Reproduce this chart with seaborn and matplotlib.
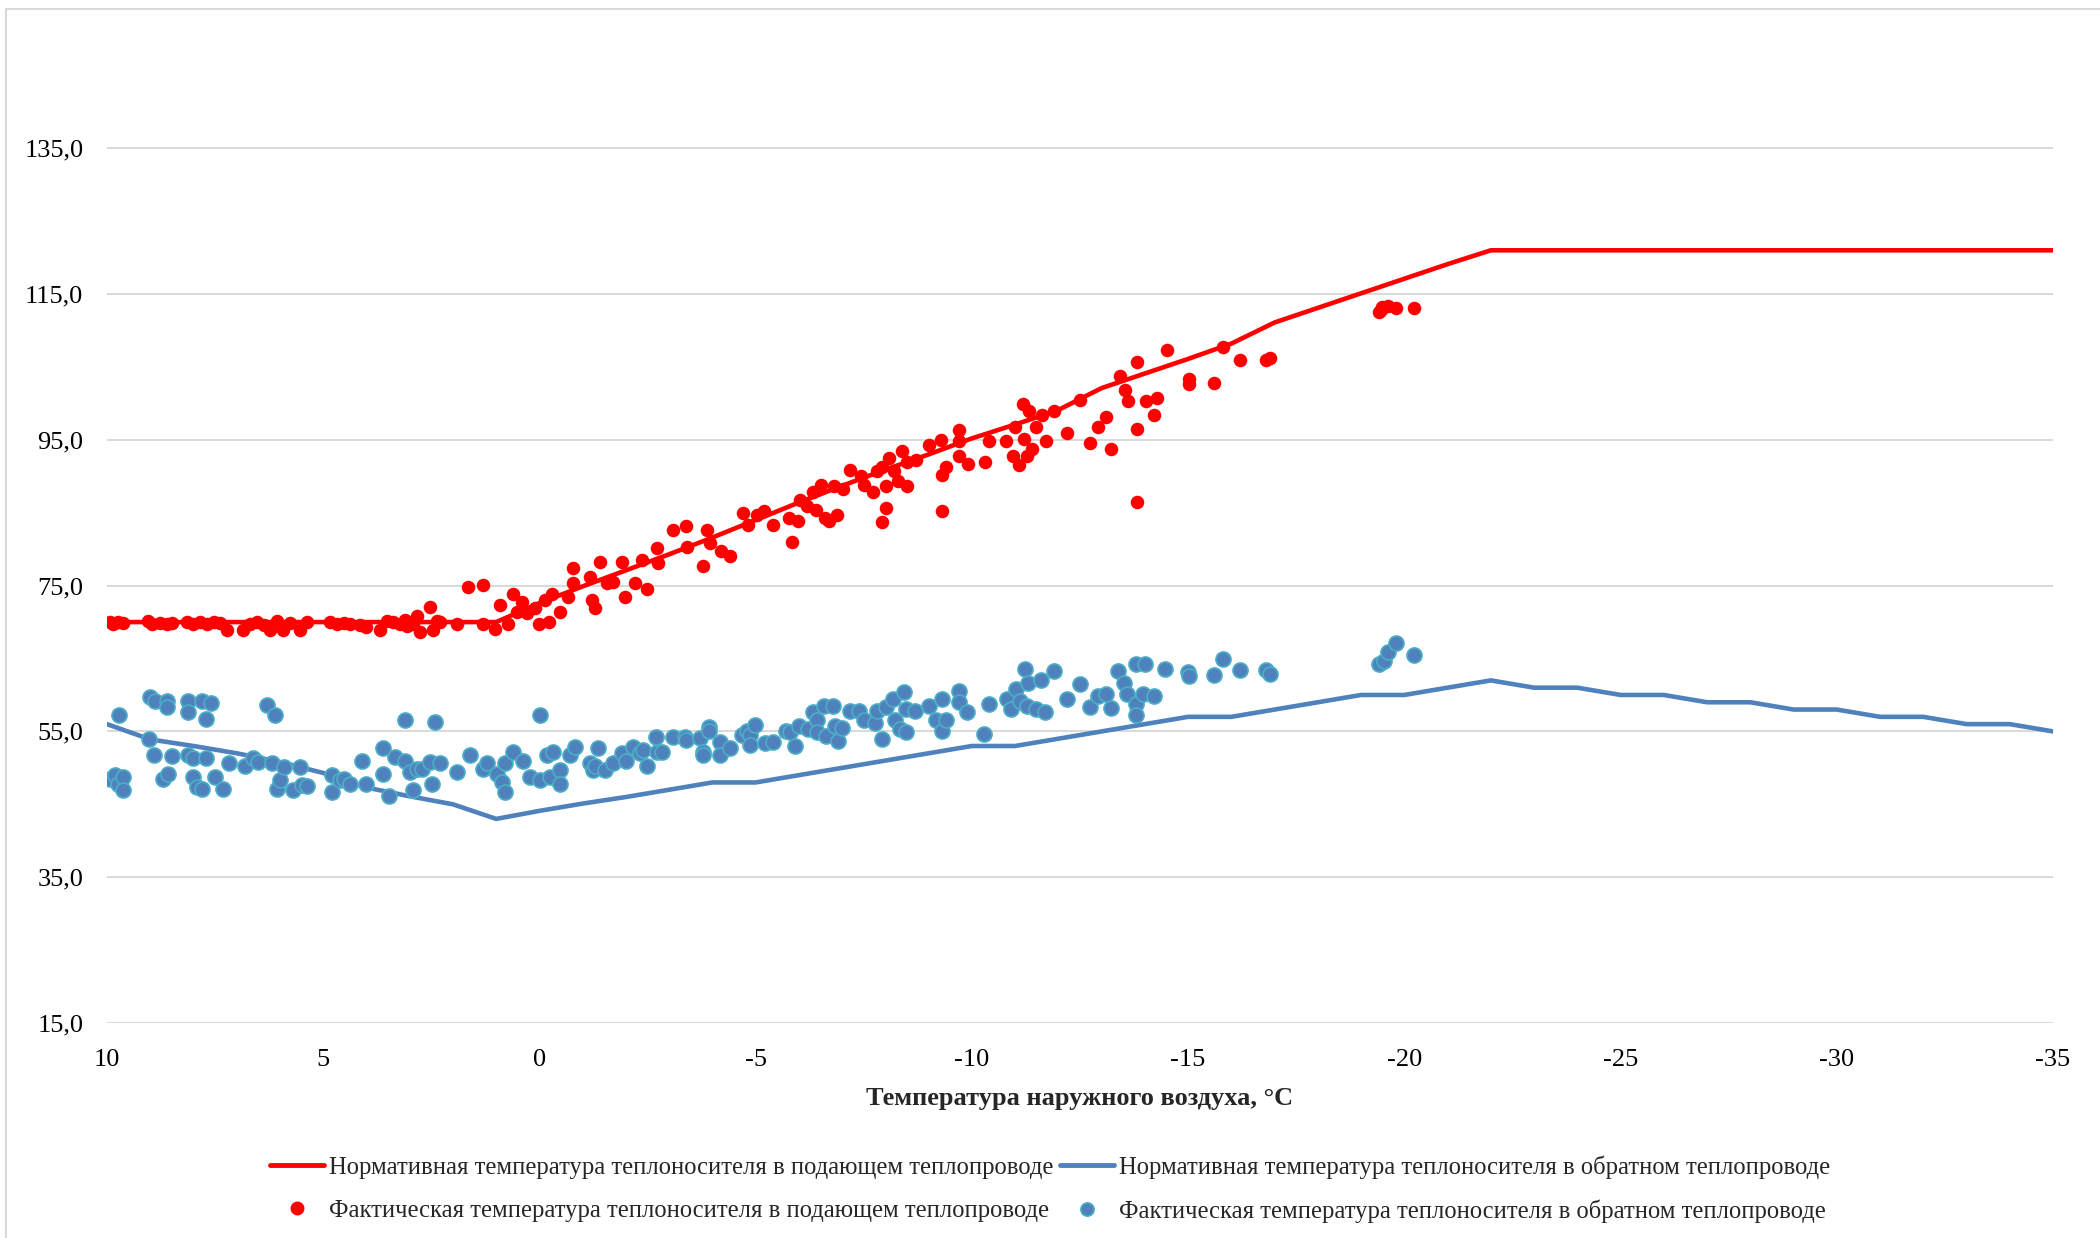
import numpy as np
import pandas as pd
import matplotlib
matplotlib.use("Agg")
import matplotlib.pyplot as plt
import seaborn as sns
from matplotlib.ticker import FuncFormatter
from matplotlib.lines import Line2D

# --- normative schedule (per degree of outdoor temperature) ---
t_out_norm = [10, 9, 8, 7, 6, 5, 4, 3, 2, 1, 0, -1, -2, -3, -4, -5, -6, -7, -8, -9,
              -10, -11, -12, -13, -14, -15, -16, -17, -18, -19, -20, -21, -22, -23,
              -24, -25, -26, -27, -28, -29, -30, -31, -32, -33, -34, -35]
t_supply_norm = [70.0, 70.0, 70.0, 70.0, 70.0, 70.0, 70.0, 70.0, 70.0, 70.0,
                 72.6, 74.9, 77.1, 79.3, 81.6, 84.0, 86.4, 88.7, 90.9, 93.0,
                 95.2, 97.1, 99.1, 102.1, 104.1, 106.1, 108.2, 111.1, 113.1, 115.1,
                 117.1, 119.1, 121.0, 121.0, 121.0, 121.0, 121.0, 121.0, 121.0, 121.0,
                 121.0, 121.0, 121.0, 121.0, 121.0, 121.0]
t_return_norm = [56.0, 53.9, 53.0, 52.0, 50.8, 49.3, 47.3, 46.1, 45.0, 43.0,
                 44.1, 45.1, 46.0, 47.0, 48.0, 48.0, 49.0, 50.0, 51.0, 52.0,
                 53.0, 53.0, 54.0, 55.0, 56.0, 57.0, 57.0, 58.0, 59.0, 60.0,
                 60.0, 61.0, 62.0, 61.0, 61.0, 60.0, 60.0, 59.0, 59.0, 58.0,
                 58.0, 57.0, 57.0, 56.0, 56.0, 55.0]

# --- measured supply temperature ---
t_out_supply = [9.93, 9.86, 9.75, 9.63, 9.05, 8.96, 8.77, 8.61, 8.50, 8.15, 8.00, 7.85,
                7.69, 7.53, 7.38, 7.22, 6.85, 6.69, 6.54, 6.38, 6.23, 6.08, 5.92, 5.77,
                5.54, 5.38, 4.84, 4.69, 4.53, 4.38, 4.15, 4.00, 3.68, 3.53, 3.38, 3.22,
                3.11, 3.07, 2.92, 2.84, 2.76, 2.53, 2.45, 2.37, 2.30, 1.91, 1.65, 1.30,
                1.30, 1.03, 0.91, 0.72, 0.60, 0.53, 0.41, 0.29, 0.10, 0.02, -0.13, -0.21,
                -0.28, -0.48, -0.67, -0.78, -0.78, -1.17, -1.21, -1.28, -1.40, -1.56, -1.71, -1.90,
                -1.98, -2.21, -2.37, -2.48, -2.71, -2.75,
                -3.42, -3.78, -3.94, -4.20, -4.41, -5.84,
                -3.09, -3.38, -3.88, -4.71, -4.83, -5.04, -5.20, -5.41, -5.78, -5.99, -6.03, -6.19,
                -6.32, -6.40, -6.52, -6.60, -6.69, -6.81, -6.89, -7.02, -7.18, -7.43, -7.51, -7.72,
                -7.80, -7.93, -8.01, -8.01, -7.93, -8.09, -8.21, -8.30, -8.38, -8.50, -8.50, -8.71,
                -9.00, -9.29, -9.31, -9.31, -9.41, -9.70, -9.70, -9.70, -9.91, -10.30, -10.40, -10.80,
                -10.94, -11.00, -11.10, -11.19, -11.21, -11.27, -11.31, -11.40, -11.49, -11.62, -11.71, -11.91,
                -12.20, -12.51, -12.72, -12.92, -13.11, -13.21, -13.42, -13.53, -13.61, -13.81, -13.81, -13.81,
                -14.02, -14.22, -14.29,
                -14.51, -15.02, -15.02, -15.61, -15.80, -16.21, -16.80, -16.90,
                -19.41, -19.45, -19.49, -19.62, -19.80, -20.22]
t_supply_fact = [70.0, 69.8, 70.0, 69.9, 70.1, 69.8, 69.9, 69.8, 69.9, 70.0, 69.8, 70.0,
                 69.8, 70.0, 69.9, 68.9, 68.9, 69.8, 70.0, 69.6, 68.9, 70.1, 68.9, 69.9,
                 68.9, 70.0, 70.0, 69.8, 69.9, 69.8, 69.6, 69.3, 68.9, 70.1, 70.0, 69.8,
                 70.3, 69.5, 69.8, 70.9, 68.7, 72.1, 68.9, 70.1, 70.0, 69.8, 74.8, 75.1,
                 69.8, 69.1, 72.3, 69.8, 73.9, 71.4, 72.8, 71.2, 71.9, 69.8, 73.0, 70.0,
                 73.9, 71.4, 73.5, 77.4, 75.3, 76.2, 73.0, 71.9, 78.3, 75.3, 75.5, 78.3,
                 73.5, 75.3, 78.5, 74.6, 80.1, 78.1,
                 80.3, 77.7, 80.9, 79.8, 79.1, 81.0,
                 82.6, 83.2, 82.6, 84.9, 83.3, 84.7, 85.2, 83.3, 84.3, 83.8, 86.8, 85.9,
                 87.9, 85.4, 88.8, 84.3, 83.8, 88.7, 84.7, 88.2, 90.8, 90.0, 88.8, 87.8,
                 90.7, 91.3, 85.6, 88.7, 83.7, 92.5, 90.7, 89.3, 93.4, 88.6, 92.0, 92.3,
                 94.3, 95.0, 90.2, 85.2, 91.3, 96.4, 94.8, 92.8, 91.7, 92.0, 94.8, 94.9,
                 92.8, 96.8, 91.6, 99.9, 95.1, 92.8, 99.0, 93.7, 96.8, 98.4, 94.9, 99.0,
                 95.9, 100.5, 94.5, 96.8, 98.1, 93.7, 103.8, 101.9, 100.3, 105.7, 96.5, 86.5,
                 100.3, 98.4, 100.7,
                 107.3, 103.3, 102.7, 102.8, 107.7, 106.0, 105.9, 106.2,
                 112.5, 112.8, 113.2, 113.4, 113.1, 113.1]

# --- measured return temperature ---
t_out_return = [9.93, 9.82, 9.74, 9.62, 9.62, 9.72, 9.02, 9.01, 8.89, 8.91, 8.70, 8.62,
                8.62, 8.58, 8.50, 8.12, 8.12, 8.12, 8.00, 8.00, 7.93, 7.81, 7.81, 7.71,
                7.71, 7.60, 7.50, 7.31, 7.19, 6.81, 6.62, 6.50, 6.31, 6.19, 6.11, 6.08,
                6.00, 5.91, 5.71, 5.54, 5.50, 5.38, 4.80, 4.80, 4.61, 4.53, 4.38, 4.11,
                4.01, 3.61, 3.61, 3.49, 3.34, 3.11, 3.11, 2.99, 2.92, 2.84, 2.72, 2.53,
                2.49, 2.41, 2.30, 1.91, 1.61, 1.30, 1.22, 0.99, 0.87, 0.80, 0.80, 0.60,
                0.37, 0.22, -0.01, -0.01, -0.17, -0.25, -0.32, -0.48, -0.48, -0.71, -0.82,
                -1.17, -1.25, -1.29, -1.36, -1.52, -1.71, -1.90, -2.00, -2.17, -2.33, -2.40, -2.48,
                -2.70, -2.71, -2.83, -3.10, -3.37, -3.39, -3.71, -3.79, -3.79, -3.91, -3.91, -4.18,
                -4.18, -4.41, -4.68, -4.79, -4.88, -4.88, -4.99, -5.22, -5.41,
                -5.70, -5.80, -5.90, -6.01, -6.21, -6.32, -6.42, -6.42, -6.57, -6.63, -6.78, -6.83,
                -6.91, -6.99, -7.19, -7.40, -7.50, -7.76, -7.81, -7.92, -8.02, -8.18, -8.23, -8.33,
                -8.43, -8.48, -8.48, -8.69, -9.00, -9.16, -9.31, -9.31, -9.41, -9.70, -9.70, -9.88,
                -10.29, -10.39, -10.81, -10.91, -11.01, -11.12, -11.22, -11.29, -11.27, -11.48, -11.60, -11.68,
                -11.89, -12.20, -12.51, -12.72, -12.92, -13.11, -13.21, -13.39, -13.52, -13.59, -13.80, -13.80,
                -13.80, -13.96, -14.01, -14.21, -14.47, -14.99,
                -15.02, -15.61, -15.80, -16.21, -16.80, -16.90,
                -19.41, -19.52, -19.62, -19.80, -20.22]
t_return_fact = [48.5, 49.0, 47.8, 48.7, 46.9, 57.2, 53.9, 59.7, 59.2, 51.8, 48.5, 59.2,
                 58.3, 49.2, 51.6, 59.2, 57.7, 51.7, 51.3, 48.7, 47.4, 59.2, 47.1, 56.7,
                 51.3, 58.9, 48.7, 47.1, 50.6, 50.3, 51.3, 50.8, 58.6, 50.6, 57.2, 47.1,
                 48.3, 50.1, 46.9, 50.1, 47.6, 47.5, 49.0, 46.7, 48.3, 48.5, 47.8, 51.0,
                 47.8, 52.7, 49.2, 46.2, 51.5, 56.6, 51.0, 49.4, 46.9, 49.9, 49.9, 50.8,
                 47.8, 56.3, 50.6, 49.4, 51.7, 49.9, 50.6, 49.2, 48.1, 46.7, 50.6, 52.2,
                 51.0, 48.7, 57.2, 48.3, 51.7, 48.7, 52.2, 49.7, 47.8, 51.7, 52.9,
                 50.6, 49.7, 50.2, 52.7, 49.7, 50.6, 52.0, 51.0, 52.9, 52.0, 52.4, 50.3,
                 54.3, 52.2, 52.2, 54.3, 54.3, 53.8, 54.1, 52.2, 51.8, 55.6, 55.1, 53.6,
                 51.8, 52.7, 54.5, 55.0, 54.5, 53.1, 55.9, 53.4, 53.5,
                 55.1, 54.9, 53.0, 55.8, 55.3, 57.6, 56.5, 54.9, 58.5, 54.4, 58.5, 55.8,
                 53.7, 55.5, 57.8, 57.8, 56.5, 56.2, 57.8, 53.9, 58.3, 59.4, 56.5, 55.3,
                 60.4, 54.9, 58.1, 57.8, 58.5, 56.5, 59.4, 55.1, 56.5, 60.6, 59.0, 57.6,
                 54.6, 58.8, 59.4, 58.1, 60.8, 59.2, 63.6, 61.7, 58.5, 58.1, 62.0, 57.6,
                 63.3, 59.4, 61.5, 58.3, 59.9, 60.1, 58.2, 63.3, 61.7, 60.1, 64.2, 58.8,
                 57.2, 60.1, 64.2, 59.9, 63.6, 63.1,
                 62.6, 62.8, 64.9, 63.4, 63.4, 62.9,
                 64.2, 64.7, 65.9, 67.1, 65.5]

y_ticks = [15, 35, 55, 75, 95, 115, 135]
x_ticks = [10, 5, 0, -5, -10, -15, -20, -25, -30, -35]

labels = ["Нормативная температура теплоносителя в подающем теплопроводе",
          "Нормативная температура теплоносителя в обратном теплопроводе",
          "Фактическая температура теплоносителя в подающем теплопроводе",
          "Фактическая температура теплоносителя в обратном теплопроводе"]

RED = "#ff0000"
BLUE = "#4f81bd"
BLUE_EDGE = "#4bacc6"
GRID = "#d9d9d9"

sns.set_theme(style="white")
plt.rcParams['font.family'] = ['Liberation Serif', 'DejaVu Serif']
plt.rcParams['axes.unicode_minus'] = False

norm_df = pd.DataFrame({'t_out': t_out_norm, 'supply': t_supply_norm, 'ret': t_return_norm})
sup_df = pd.DataFrame({'t_out': t_out_supply, 't': t_supply_fact})
ret_df = pd.DataFrame({'t_out': t_out_return, 't': t_return_fact})

fig = plt.figure(figsize=(21, 12.38), dpi=100)
ax = fig.add_axes([0.05095, 0.17367, 0.92667, 0.7949])

sns.lineplot(data=norm_df, x='t_out', y='supply', color=RED, lw=3.3, ax=ax,
             estimator=None, sort=False)
sns.lineplot(data=norm_df, x='t_out', y='ret', color=BLUE, lw=3.3, ax=ax,
             estimator=None, sort=False)
sns.scatterplot(data=sup_df, x='t_out', y='t', color=RED, s=95, linewidth=0, ax=ax, zorder=3)
sns.scatterplot(data=ret_df, x='t_out', y='t', color=BLUE, edgecolor=BLUE_EDGE, s=115,
                linewidth=1.3, ax=ax, zorder=3)

ax.set_xlim(10, -35)
ax.set_ylim(15, 150)
ax.set_xticks(x_ticks)
ax.set_yticks(y_ticks)
ax.yaxis.set_major_formatter(FuncFormatter(lambda v, p: f"{v:.1f}".replace('.', ',')))
ax.xaxis.set_major_formatter(FuncFormatter(lambda v, p: f"{v:g}"))
ax.grid(axis='y', color=GRID, lw=1.4)
ax.grid(axis='x', visible=False)
for s in ax.spines.values():
    s.set_visible(False)
ax.tick_params(axis='both', length=0, labelsize=19, colors='black')
ax.tick_params(axis='y', pad=17)
ax.tick_params(axis='x', pad=19)
ax.set_ylabel('')
ax.set_xlabel('Температура наружного воздуха, °С', fontsize=19, fontweight='bold',
              labelpad=11)

handles = [Line2D([], [], color=RED, lw=3.5),
           Line2D([], [], ls='', marker='o', ms=9, mfc=RED, mec=RED),
           Line2D([], [], color=BLUE, lw=3.5),
           Line2D([], [], ls='', marker='o', ms=9.5, mfc=BLUE, mec=BLUE_EDGE, mew=1.2)]
fig.legend(handles, [labels[0], labels[2], labels[1], labels[3]], loc='center',
           bbox_to_anchor=(0.5, 0.0395), ncol=2, frameon=False, fontsize=17.7,
           handlelength=2.2, handletextpad=0.2, columnspacing=0.28, labelspacing=0.83)

# chart area frame (left and top edges visible)
fig.add_artist(Line2D([6 / 2100, 6 / 2100, 1], [0, 1 - 9 / 1238, 1 - 9 / 1238],
                      transform=fig.transFigure, color=GRID, lw=1.5))

fig.savefig('out.png', dpi=100)
